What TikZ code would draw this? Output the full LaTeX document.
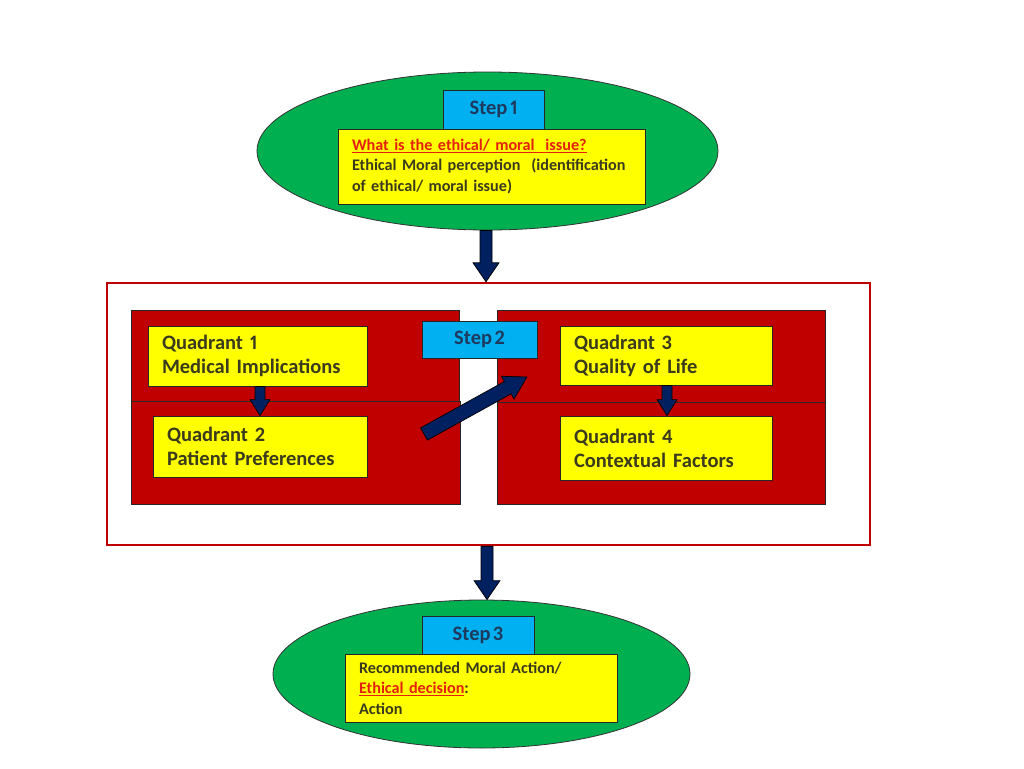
\documentclass[tikz,border=0pt]{standalone}
\usepackage{fontspec}
\setmainfont{Carlito}[Numbers=Proportional]
\usetikzlibrary{calc,shapes.geometric}
\definecolor{stepgreen}{HTML}{00B050}
\definecolor{boxyellow}{HTML}{FFFF00}
\definecolor{stepblue}{HTML}{00B0F0}
\definecolor{blockred}{HTML}{C00000}
\definecolor{navy}{HTML}{002060}
\definecolor{txt}{HTML}{3A3A1E}
\definecolor{steptxt}{HTML}{1F3A5F}
\definecolor{redtxt}{HTML}{E4200E}
\newcommand\myStepFont{\fontsize{20.5}{24}\selectfont\bfseries\spaceskip 0.13em plus 0.05em\relax}
\newcommand\myQuadFont{\fontsize{20.5}{24}\selectfont\bfseries\spaceskip 0.14em plus 0.05em\relax}
\newcommand\mySmallFont{\fontsize{16.2}{20.5}\selectfont\bfseries\spaceskip 0.16em plus 0.05em\relax}
\tikzset{
  stepoval/.style={ellipse, draw=black!80, line width=0.8pt, fill=stepgreen, inner sep=0pt},
  stepbox/.style={rectangle, draw=black!85, line width=0.8pt, fill=stepblue, inner sep=0pt,
     font=\myStepFont, text=steptxt},
  infobox/.style={rectangle, draw=black!85, line width=0.8pt, fill=boxyellow, inner sep=0pt,
     align=left, text=txt},
  quadfont/.style={font=\myQuadFont},
  smallfont/.style={font=\mySmallFont},
  redblock/.style={draw=black!85, line width=0.7pt, fill=blockred},
  frame/.style={draw=blockred, line width=2.4pt, fill=white},
  arrowst/.style={draw=black, line width=0.7pt, fill=navy, line join=miter},
}
% #1 from, #2 to, #3 half shaft, #4 half head, #5 head length
\newcommand\blockarrow[5]{%
  \coordinate (ba-c) at ($(#2)!#5pt!(#1)$);
  \draw[arrowst] ($(#1)!#3pt!90:(#2)$) -- ($(ba-c)!#3pt!90:(#2)$) -- ($(ba-c)!#4pt!90:(#2)$)
     -- (#2) -- ($(ba-c)!#4pt!-90:(#2)$) -- ($(ba-c)!#3pt!-90:(#2)$) -- ($(#1)!#3pt!-90:(#2)$) -- cycle;
}
\begin{document}
\begin{tikzpicture}[x=1pt,y=-1pt]
\useasboundingbox (0,0) rectangle (1024,768);
\fill[white] (0,0) rectangle (1024,768);

% Step 1
\node[stepoval, minimum width=461pt, minimum height=158pt] (s1) at (487.5,151) {};
\node[stepbox, minimum width=101pt, minimum height=39pt] (b1) at (493.5,109.5) {Step 1};
\node[infobox, smallfont, minimum width=307pt, minimum height=75pt, text width=279pt] (y1) at (491.5,166.5)
  {\textcolor{redtxt}{\underline{What is the ethical/ moral\ \ issue?}}\\
   Ethical Moral perception\ \ (identification\\ of ethical/ moral issue)};

% Step 2 frame
\node[frame, rectangle, minimum width=763pt, minimum height=262pt, inner sep=0pt] (fr) at (488.5,414) {};
\draw[redblock] (131,310) rectangle (459,401);
\draw[redblock] (131,401) rectangle (460,504);
\draw[redblock] (497,310) rectangle (825,402);
\draw[redblock] (497,402) rectangle (825,504);

\node[infobox, quadfont, minimum width=219pt, minimum height=60pt, text width=191pt] (q1) at (257.5,356)
  {Quadrant 1\\Medical Implications};
\node[infobox, quadfont, minimum width=214pt, minimum height=61pt, text width=186pt] (q2) at (260,446.5)
  {Quadrant 2\\Patient Preferences};
\node[infobox, quadfont, minimum width=212pt, minimum height=59pt, text width=184pt] (q3) at (666,355.5)
  {Quadrant 3\\Quality of Life};
\node[infobox, quadfont, minimum width=212pt, minimum height=64pt, text width=184pt] (q4) at (666,448)
  {Quadrant 4\\Contextual Factors};

\node[stepbox, minimum width=115pt, minimum height=37pt] (b2) at (479.5,339.5) {Step 2};

% Step 3
\node[stepoval, minimum width=417pt, minimum height=148pt] (s3) at (481.5,674) {};
\node[stepbox, minimum width=112pt, minimum height=38pt] (b3) at (478,635) {Step 3};
\node[infobox, smallfont, minimum width=272pt, minimum height=68pt, text width=244pt] (y3) at (481,688)
  {Recommended Moral Action/\\
   \textcolor{redtxt}{\underline{Ethical decision}}:\\
   Action};

% arrows
\coordinate (a1s) at (s1.south -| 486,0);
\coordinate (a1e) at (fr.north -| 486,0);
\blockarrow{a1s}{a1e}{6}{13}{19}
\coordinate (a3s) at (fr.south -| 487,0);
\coordinate (a3e) at (s3.north -| 487,0);
\blockarrow{a3s}{a3e}{6}{13}{19}
\coordinate (aq1s) at (q1.south -| 260,0);
\coordinate (aq1e) at (q2.north -| 260,0);
\blockarrow{aq1s}{aq1e}{5}{10}{16}
\coordinate (aq3s) at (q3.south -| 667,0);
\coordinate (aq3e) at (q4.north -| 667,0);
\blockarrow{aq3s}{aq3e}{5}{10}{16}
\coordinate (ad1) at (424,434);
\coordinate (ad2) at (527,377);
\blockarrow{ad1}{ad2}{7}{13}{22}
\end{tikzpicture}
\end{document}
